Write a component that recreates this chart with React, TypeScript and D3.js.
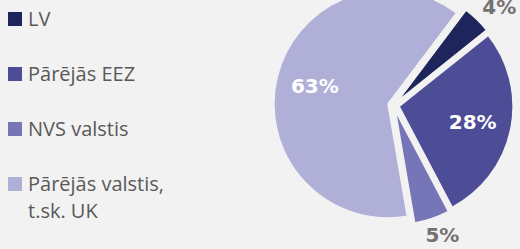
import React, { useEffect, useRef } from 'react';
import * as d3 from 'd3';

const categories = ['LV', 'Pārējās EEZ', 'NVS valstis', 'Pārējās valstis, t.sk. UK'];
const legendLines = [['LV'], ['Pārējās EEZ'], ['NVS valstis'], ['Pārējās valstis,', 't.sk. UK']];
const shares = [4, 28, 5, 63];
const labels = ['4%', '28%', '5%', '63%'];
const labelInside = [false, true, false, true];
const colors = ['#1e245c', '#4c4c97', '#7575b7', '#afafd8'];

const width = 520;
const height = 249;
const bg = '#f2f2f2';

const App = () => {
  const ref = useRef<SVGSVGElement | null>(null);

  useEffect(() => {
    const svg = d3.select(ref.current);
    svg.selectAll('*').remove();

    svg.append('rect')
      .attr('width', width)
      .attr('height', height)
      .attr('fill', bg);

    // pie, every slice pulled out a little
    const r = 114;
    const explode = 5.7;
    const cx = 393.5;
    const cy = 105.3;

    const data = categories.map((c, i) => ({ name: c, value: shares[i], i }));
    const pie = d3.pie<any>()
      .sort(null)
      .value(d => d.value)
      .startAngle(37 * Math.PI / 180)
      .endAngle(37 * Math.PI / 180 + 2 * Math.PI);
    const arc = d3.arc<any>().innerRadius(0).outerRadius(r);

    const g = svg.append('g').attr('transform', `translate(${cx},${cy})`);
    const arcs = pie(data);
    const mid = (d: any) => (d.startAngle + d.endAngle) / 2;

    const slices = g.selectAll('.slice')
      .data(arcs)
      .enter().append('g')
      .attr('class', 'slice')
      .attr('transform', d => `translate(${Math.sin(mid(d)) * explode},${-Math.cos(mid(d)) * explode})`);

    slices.append('path')
      .attr('d', arc)
      .attr('fill', d => colors[d.data.i])
      .attr('stroke', bg)
      .attr('stroke-width', 1.5)
      .attr('stroke-linejoin', 'round');

    slices.append('text')
      .attr('x', d => {
        const a = mid(d);
        if (labelInside[d.data.i]) return Math.sin(a) * r * 0.66;
        return Math.sin(a) * (r + 12) + Math.sin(a) * 20;
      })
      .attr('y', d => {
        const a = mid(d);
        if (labelInside[d.data.i]) return -Math.cos(a) * r * 0.66;
        const y = -Math.cos(a) * (r + 8) - Math.cos(a) * 9;
        return Math.max(y, 10 - cy);  // keep the top label on the page
      })
      .attr('text-anchor', 'middle')
      .attr('dominant-baseline', 'central')
      .style('font-family', '"DejaVu Sans", sans-serif')
      .style('font-weight', 'bold')
      .style('font-size', '20px')
      .attr('fill', d => labelInside[d.data.i] ? '#ffffff' : '#767171')
      .text(d => labels[d.data.i]);

    // legend
    const legend = svg.append('g').attr('transform', 'translate(8,26)');
    const rowY = d3.scaleLinear().domain([0, 1]).range([0, 55]);

    const rows = legend.selectAll('.row')
      .data(categories)
      .enter().append('g')
      .attr('class', 'row')
      .attr('transform', (d, i) => `translate(0,${rowY(i)})`);

    rows.append('rect')
      .attr('x', 0)
      .attr('y', -14)
      .attr('width', 14)
      .attr('height', 14)
      .attr('fill', (d, i) => colors[i]);

    rows.append('text')
      .style('font-family', '"Open Sans", sans-serif')
      .style('font-size', '20px')
      .attr('fill', '#595959')
      .selectAll('tspan')
      .data((d, i) => legendLines[i])
      .enter().append('tspan')
      .attr('x', 20)
      .attr('y', (d, j) => j * 27)
      .text(d => d);
  }, []);

  return (
    <div style={{ position: 'absolute', left: 0, top: 0 }}>
      <svg ref={ref} width={width} height={height} style={{ display: 'block' }} />
    </div>
  );
};

export default App;
